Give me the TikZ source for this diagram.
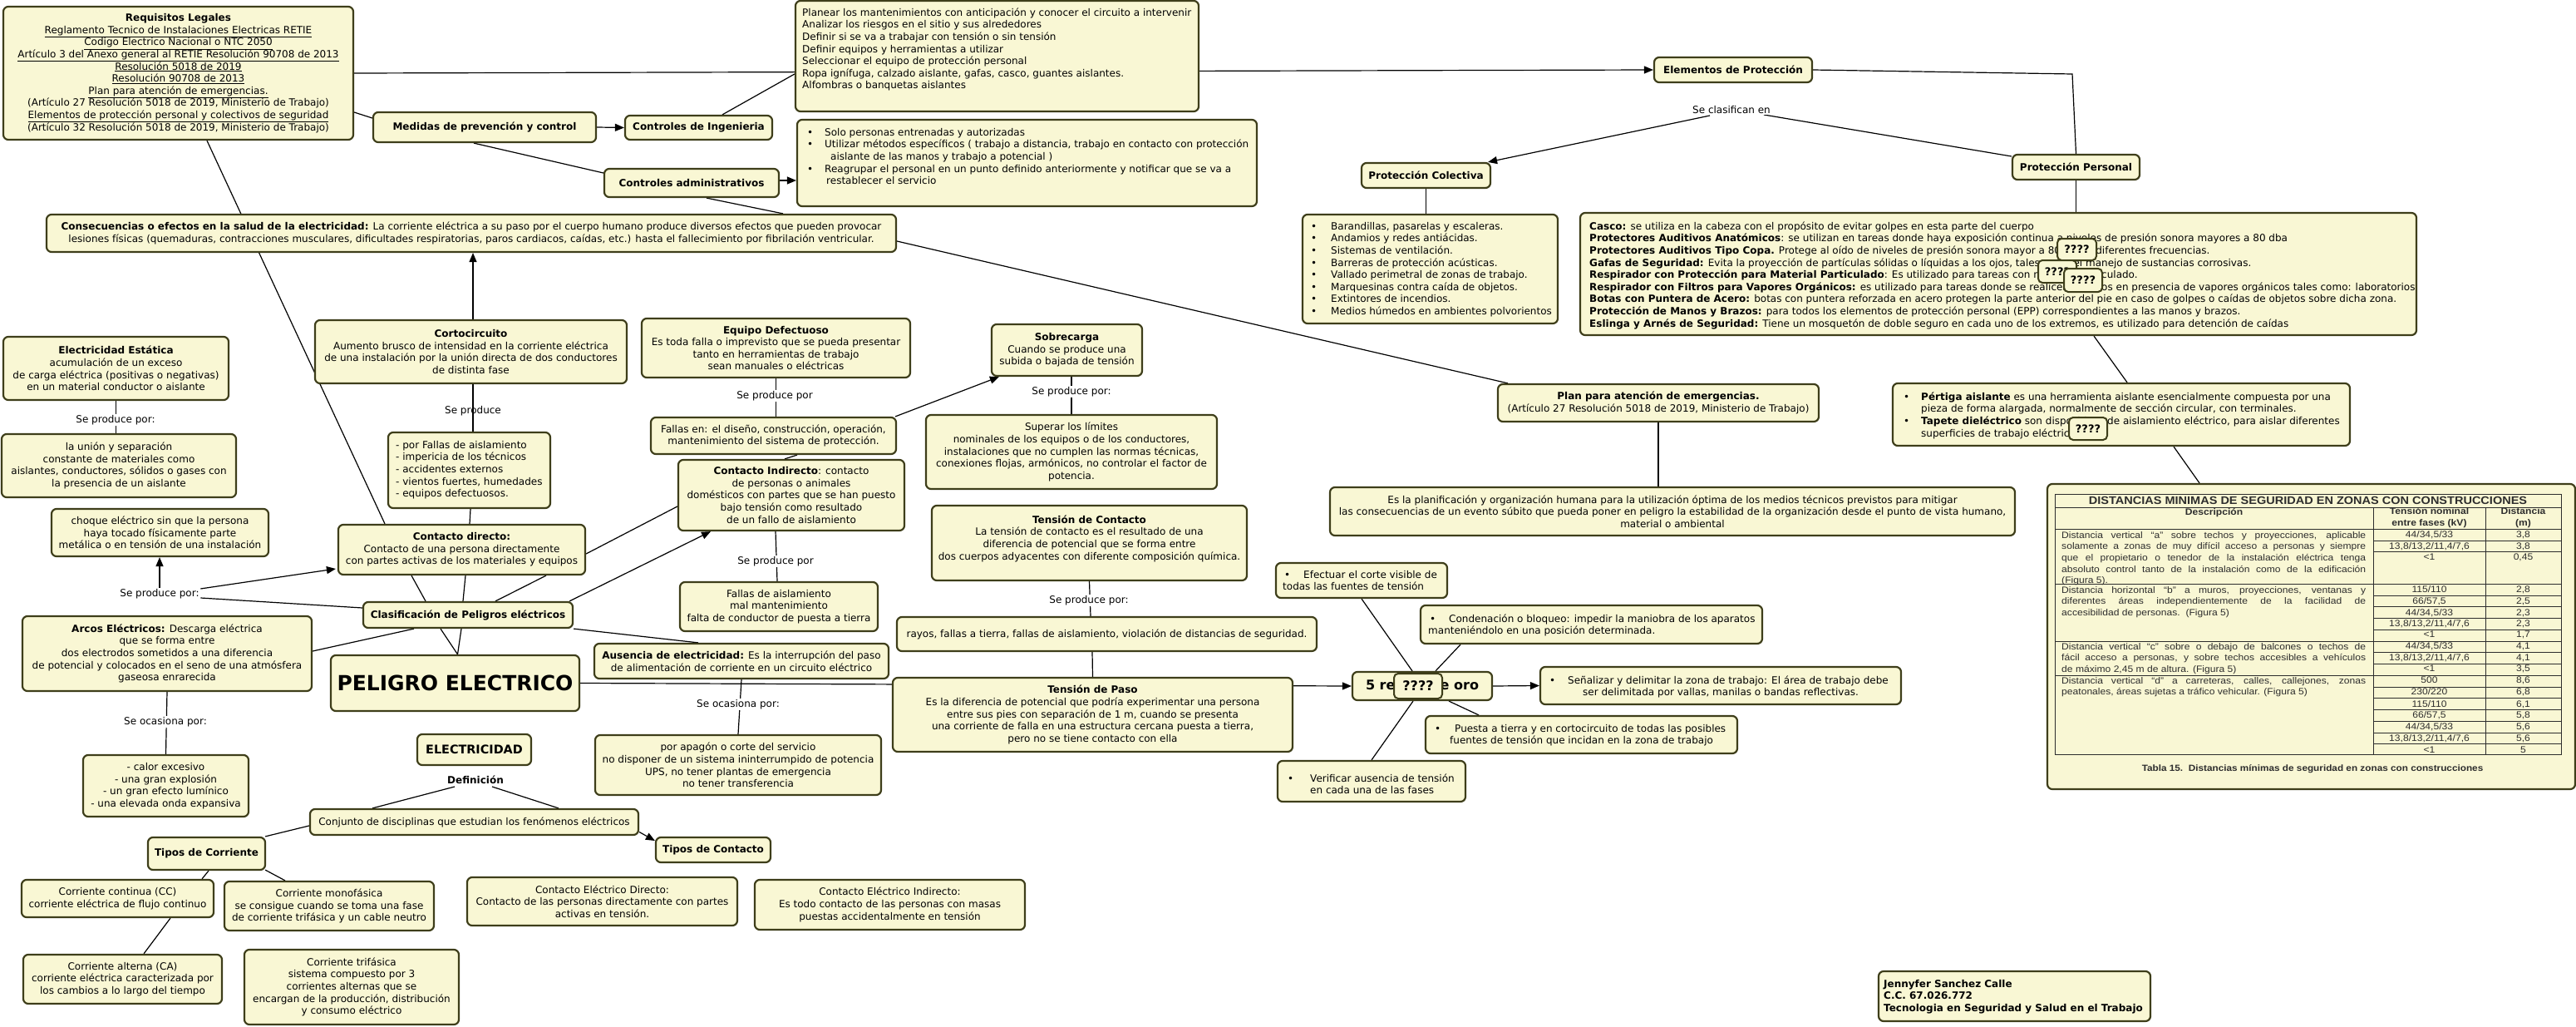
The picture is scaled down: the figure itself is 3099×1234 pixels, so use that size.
\documentclass[tikz,border=0pt]{standalone}
\usepackage{fontspec}
\setmainfont{DejaVu Sans}
\newfontfamily\arialfont{Liberation Sans}[FakeStretch=1.1]
\usetikzlibrary{arrows.meta}
\pgfdeclarelayer{bg}
\pgfdeclarelayer{lines}
\pgfsetlayers{bg,lines,main}
\definecolor{boxfill}{RGB}{249,247,212}
\definecolor{boxline}{RGB}{62,62,26}
\definecolor{tabgray}{RGB}{45,45,45}
\newcommand\fs{\fontsize{12}{14.6}\selectfont}
\newcommand\tabfs{\arialfont\fontsize{11}{13.6}\selectfont}
\newcommand\ts{\rule{0pt}{10pt}}
\newcommand\bul[1]{\makebox[#1][l]{\textbullet}}
\newcommand\jl[1]{\makebox[366pt][s]{#1}}
\newcommand\bx[7][]{\node[box,minimum width={#5-(#3)},minimum height={#6-(#4)},#1] (#2) at ({(#3+#5)/2},{(#4+#6)/2}) {#7};}
\tikzset{
 box/.style={draw=boxline, fill=boxfill, line width=2.2pt, rounded corners=6pt, inner sep=2pt, align=center, font=\fs},
 txt/.style={inner sep=0pt, align=left, font=\fs, anchor=north west},
 lbl/.style={fill=white, inner sep=1.5pt, font=\fs},
 lbln/.style={inner sep=1.5pt, font=\fs},
 con/.style={draw=black, line width=1.2pt},
 arr/.style={con, -{Triangle[length=11pt,width=9pt]}},
 qq/.style={draw=boxline, fill=boxfill, line width=2pt, rounded corners=5pt, inner sep=0pt, font=\fontsize{13}{15}\selectfont\bfseries},
 tabtxt/.style={inner sep=0pt, font=\tabfs, text=tabgray},
}
\begin{document}
\begin{tikzpicture}[x=1pt,y=-1pt]
\useasboundingbox (0,0) rectangle (3099,1234);
\begin{pgfonlayer}{bg}\fill[white] (0,0) rectangle (3099,1234);\end{pgfonlayer}

% ---------- boxes ----------
\bx{req}{4}{8}{425}{168}{\textbf{Requisitos Legales}\\
\underline{Reglamento Tecnico de Instalaciones Electricas RETIE}\\
\underline{Codigo Electrico Nacional o NTC 2050}\\
\underline{Artículo 3 del Anexo general al RETIE Resolución 90708 de 2013}\\
\underline{Resolución 5018 de 2019}\\
\underline{Resolución 90708 de 2013}\\
\underline{Plan para atención de emergencias.}\\
(Artículo 27 Resolución 5018 de 2019, Ministerio de Trabajo)\\
\underline{Elementos de protección personal y colectivos de seguridad}\\
(Artículo 32 Resolución 5018 de 2019, Ministerio de Trabajo)}
\bx{med}{449}{135}{717}{171}{\textbf{Medidas de prevención y control}}
\bx{cing}{752}{139}{929}{168}{\textbf{Controles de Ingenieria}}
\bx{cadm}{727}{203}{937}{237}{\textbf{Controles administrativos}}
\bx{plan}{957}{1}{1442}{134}{}
\node[txt] (plant) at (965,9) {\ts Planear los mantenimientos con anticipación y conocer el circuito a intervenir\\
Analizar los riesgos en el sitio y sus alrededores\\
Definir si se va a trabajar con tensión o sin tensión\\
Definir equipos y herramientas a utilizar\\
Seleccionar el equipo de protección personal\\
Ropa ignífuga, calzado aislante, gafas, casco, guantes aislantes.\\
Alfombras o banquetas aislantes};
\bx{admb}{959}{144}{1512}{248}{}
\node[txt] (admbt) at (971,153) {\ts\bul{21pt}Solo personas entrenadas y autorizadas\\
\bul{21pt}Utilizar métodos específicos ( trabajo a distancia, trabajo en contacto con protección\\
\hspace*{28pt}aislante de las manos y trabajo a potencial )\\
\bul{21pt}Reagrupar el personal en un punto definido anteriormente y notificar que se va a\\
\hspace*{23pt}restablecer el servicio};
\bx{elem}{1990}{69}{2180}{99}{\textbf{Elementos de Protección}}
\node[lbl] (clasif) at (2083,132) {Se clasifican en};
\bx{pcol}{1638}{196}{1793}{226}{\textbf{Protección Colectiva}}
\bx{pper}{2421}{186}{2574}{216}{\textbf{Protección Personal}}
\bx{casco}{1901}{256}{2907}{403}{}
\node[txt] (cascot) at (1912,266) {\ts\textbf{Casco:} se utiliza en la cabeza con el propósito de evitar golpes en esta parte del cuerpo\\
\textbf{Protectores Auditivos Anatómicos}: se utilizan en tareas donde haya exposición continua a niveles de presión sonora mayores a 80 dba\\
\textbf{Protectores Auditivos Tipo Copa.} Protege al oído de niveles de presión sonora mayor a 80 dB en diferentes frecuencias.\\
\textbf{Gafas de Seguridad:} Evita la proyección de partículas sólidas o líquidas a los ojos, tales como el manejo de sustancias corrosivas.\\
\textbf{Respirador con Protección para Material Particulado}: Es utilizado para tareas con material particulado.\\
\textbf{Respirador con Filtros para Vapores Orgánicos:} es utilizado para tareas donde se realicen trabajos en presencia de vapores orgánicos tales como: laboratorios\\
\textbf{Botas con Puntera de Acero:} botas con puntera reforzada en acero protegen la parte anterior del pie en caso de golpes o caídas de objetos sobre dicha zona.\\
\textbf{Protección de Manos y Brazos:} para todos los elementos de protección personal (EPP) correspondientes a las manos y brazos.\\
\textbf{Eslinga y Arnés de Seguridad:} Tiene un mosquetón de doble seguro en cada uno de los extremos, es utilizado para detención de caídas};
\bx{colb}{1567}{258}{1874}{389}{}
\node[txt] (colbt) at (1577,266) {\ts\bul{24pt}Barandillas, pasarelas y escaleras.\\
\bul{24pt}Andamios y redes antiácidas.\\
\bul{24pt}Sistemas de ventilación.\\
\bul{24pt}Barreras de protección acústicas.\\
\bul{24pt}Vallado perimetral de zonas de trabajo.\\
\bul{24pt}Marquesinas contra caída de objetos.\\
\bul{24pt}Extintores de incendios.\\
\bul{24pt}Medios húmedos en ambientes polvorientos};
\bx{cons}{56}{258}{1078}{303}{\textbf{Consecuencias o efectos en la salud de la electricidad:} La corriente eléctrica a su paso por el cuerpo humano produce diversos efectos que pueden provocar\\
lesiones físicas (quemaduras, contracciones musculares, dificultades respiratorias, paros cardiacos, caídas, etc.) hasta el fallecimiento por fibrilación ventricular.}
\bx{corto}{379}{385}{754}{461}{\textbf{Cortocircuito}\\Aumento brusco de intensidad en la corriente eléctrica\\de una instalación por la unión directa de dos conductores\\de distinta fase}
\bx{eqdef}{772}{383}{1095}{454}{\textbf{Equipo Defectuoso}\\Es toda falla o imprevisto que se pueda presentar\\tanto en herramientas de trabajo\\sean manuales o eléctricas}
\bx{sobre}{1193}{390}{1374}{452}{\textbf{Sobrecarga}\\Cuando se produce una\\subida o bajada de tensión}
\bx{estat}{4}{405}{275}{481}{\textbf{Electricidad Estática}\\acumulación de un exceso\\de carga eléctrica (positivas o negativas)\\en un material conductor o aislante}
\bx{union}{2}{522}{284}{598}{la unión y separación\\constante de materiales como\\aislantes, conductores, sólidos o gases con\\la presencia de un aislante}
\node[lbl] (lest) at (139,505) {Se produce por:};
\bx{choque}{62}{612}{323}{669}{choque eléctrico sin que la persona\\haya tocado físicamente parte\\metálica o en tensión de una instalación}
\node[lbl] (lsp) at (192,714) {Se produce por:};
\bx{pfal}{467}{520}{662}{611}{}
\node[txt] (pfalt) at (476,529) {\ts- por Fallas de aislamiento\\- impericia de los técnicos\\- accidentes externos\\- vientos fuertes, humedades\\- equipos defectuosos.};
\node[lbln] (lsprod) at (569,494) {Se produce};
\bx{cdir}{407}{631}{704}{691}{\textbf{Contacto directo:}\\Contacto de una persona directamente\\con partes activas de los materiales y equipos}
\bx{clas}{437}{724}{689}{755}{\textbf{Clasificación de Peligros eléctricos}}
\bx{arcos}{27}{741}{375}{831}{\textbf{Arcos Eléctricos:} Descarga eléctrica\\que se forma entre\\dos electrodos sometidos a una diferencia\\de potencial y colocados en el seno de una atmósfera\\gaseosa enrarecida}
\bx[font=\fontsize{25}{30}\selectfont\bfseries]{pel}{398}{788}{697}{855}{PELIGRO ELECTRICO}
\bx{aus}{715}{774}{1069}{816}{\textbf{Ausencia de electricidad:} Es la interrupción del paso\\de alimentación de corriente en un circuito eléctrico}
\node[lbl] (locas) at (888,847) {Se ocasiona por:};
\bx{apag}{716}{884}{1060}{956}{por apagón o corte del servicio\\no disponer de un sistema ininterrumpido de potencia\\UPS, no tener plantas de emergencia\\no tener transferencia}
\bx{fen}{783}{502}{1078}{546}{Fallas en: el diseño, construcción, operación,\\mantenimiento del sistema de protección.}
\node[lbl] (lfen) at (932,476) {Se produce por};
\bx{cind}{816}{553}{1088}{638}{\textbf{Contacto Indirecto}: contacto\\de personas o animales\\domésticos con partes que se han puesto\\bajo tensión como resultado\\de un fallo de aislamiento}
\node[lbl] (lcind) at (933,675) {Se produce por};
\bx{faisl}{818}{700}{1056}{759}{Fallas de aislamiento\\mal mantenimiento\\falta de conductor de puesta a tierra}
\node[lbl] (lsob) at (1289,471) {Se produce por:};
\bx{super}{1114}{499}{1464}{588}{Superar los límites\\nominales de los equipos o de los conductores,\\instalaciones que no cumplen las normas técnicas,\\conexiones flojas, armónicos, no controlar el factor de\\potencia.}
\bx{tcon}{1121}{608}{1500}{698}{}
\node[txt,anchor=north,align=center] (tcont) at (1310.5,619) {\ts\textbf{Tensión de Contacto}\\La tensión de contacto es el resultado de una\\diferencia de potencial que se forma entre\\dos cuerpos adyacentes con diferente composición química.};
\node[lbl] (ltc) at (1310,722) {Se produce por:};
\bx{rayos}{1079}{742}{1584}{783}{rayos, fallas a tierra, fallas de aislamiento, violación de distancias de seguridad.}
\bx{tpaso}{1074}{815}{1555}{904}{\textbf{Tensión de Paso}\\Es la diferencia de potencial que podría experimentar una persona\\entre sus pies con separación de 1 m, cuando se presenta\\una corriente de falla en una estructura cercana puesta a tierra,\\pero no se tiene contacto con ella}
\bx[font=\fontsize{16}{19}\selectfont\bfseries]{reglas}{1627}{808}{1795}{842}{5 reglas de oro}
\bx{efect}{1535}{677}{1741}{719}{}
\node[txt] (efectt) at (1543,685) {\ts\hspace*{2pt}\bul{23pt}Efectuar el corte visible de\\todas las fuentes de tensión};
\bx{conden}{1709}{728}{2120}{774}{}
\node[txt] (condent) at (1718,738) {\ts\hspace*{2pt}\bul{23pt}Condenación o bloqueo: impedir la maniobra de los aparatos\\manteniéndolo en una posición determinada.};
\bx{senal}{1853}{802}{2287}{847}{}
\node[txt] (senalt) at (1864,812) {\ts\bul{22pt}Señalizar y delimitar la zona de trabajo: El área de trabajo debe\\\hspace*{40pt}ser delimitada por vallas, manilas o bandas reflectivas.};
\bx{puesta}{1715}{861}{2090}{906}{}
\node[txt] (puestat) at (1726,870) {\ts\bul{24pt}Puesta a tierra y en cortocircuito de todas las posibles\\\hspace*{18pt}fuentes de tensión que incidan en la zona de trabajo};
\bx{verif}{1537}{915}{1763}{964}{}
\node[txt] (verift) at (1549,930) {\ts\bul{27pt}Verificar ausencia de tensión\\\hspace*{27pt}en cada una de las fases};
\bx{planat}{1802}{462}{2188}{507}{\textbf{Plan para atención de emergencias.}\\(Artículo 27 Resolución 5018 de 2019, Ministerio de Trabajo)}
\bx{esplan}{1600}{586}{2424}{644}{Es la planificación y organización humana para la utilización óptima de los medios técnicos previstos para mitigar\\las consecuencias de un evento súbito que pueda poner en peligro la estabilidad de la organización desde el punto de vista humano,\\material o ambiental}
\bx{pert}{2277}{461}{2827}{536}{}
\node[txt] (pertt) at (2290,471) {\ts\bul{21pt}\textbf{Pértiga aislante} es una herramienta aislante esencialmente compuesta por una\\
\hspace*{21pt}pieza de forma alargada, normalmente de sección circular, con terminales.\\
\bul{21pt}\textbf{Tapete dieléctrico} son dispositivos de aislamiento eléctrico, para aislar diferentes\\
\hspace*{21pt}superficies de trabajo eléctrico.};
\bx{tab}{2463}{582}{3098}{949}{}
\bx{jen}{2260}{1168}{2587}{1228}{}
\node[txt,font=\fs\bfseries] (jent) at (2266,1177) {\ts Jennyfer Sanchez Calle\\C.C. 67.026.772\\Tecnologia en Seguridad y Salud en el Trabajo};
\bx{calor}{100}{908}{299}{982}{- calor excesivo\\- una gran explosión\\- un gran efecto lumínico\\- una elevada onda expansiva}
\node[lbl] (locar) at (199,868) {Se ocasiona por:};
\bx[font=\fontsize{14.4}{17}\selectfont\bfseries]{elec}{502}{883}{639}{920}{ELECTRICIDAD}
\node[lbl,font=\fs\bfseries] (ldef) at (572,938) {Definición};
\bx{conj}{373}{973}{768}{1004}{Conjunto de disciplinas que estudian los fenómenos eléctricos}
\bx{tcorr}{178}{1007}{319}{1046}{\textbf{Tipos de Corriente}}
\bx{tcto}{789}{1007}{927}{1037}{\textbf{Tipos de Contacto}}
\bx{cc}{26}{1058}{257}{1103}{Corriente continua (CC)\\corriente eléctrica de flujo continuo}
\bx{mono}{270}{1060}{522}{1119}{Corriente monofásica\\se consigue cuando se toma una fase\\de corriente trifásica y un cable neutro}
\bx{ca}{28}{1148}{267}{1207}{Corriente alterna (CA)\\corriente eléctrica caracterizada por\\los cambios a lo largo del tiempo}
\bx{tri}{294}{1142}{552}{1232}{Corriente trifásica\\sistema compuesto por 3\\corrientes alternas que se\\encargan de la producción, distribución\\y consumo eléctrico}
\bx{ced}{562}{1055}{887}{1113}{Contacto Eléctrico Directo:\\Contacto de las personas directamente con partes\\activas en tensión.}
\bx{cei}{908}{1058}{1233}{1118}{Contacto Eléctrico Indirecto:\\Es todo contacto de las personas con masas\\puestas accidentalmente en tensión}

% ---------- table ----------
\draw[tabgray, line width=1pt] (2472,594) rectangle (3081,907);
\foreach \yy in {610,636,702,771,812} {\draw[tabgray, line width=1pt] (2472,\yy) -- (3081,\yy);}
\foreach \yy in {650,663,716,729,743,757,784,798,826,839,853,867,881,894} {\draw[tabgray, line width=0.9pt] (2855,\yy) -- (3081,\yy);}
\draw[tabgray, line width=1pt] (2855,610) -- (2855,907) (2990,610) -- (2990,907);
\node[tabtxt,font=\arialfont\bfseries\fontsize{13.2}{15}\selectfont] (th) at (2776.5,602) {DISTANCIAS MINIMAS DE SEGURIDAD EN ZONAS CON CONSTRUCCIONES};
\node[tabtxt,font=\arialfont\bfseries\fontsize{11}{14}\selectfont] (th1) at (2663.5,617) {Descripción};
\node[tabtxt,font=\arialfont\bfseries\fontsize{11}{14}\selectfont,align=center] (th2) at (2922.5,623) {Tensión nominal\\entre fases (kV)};
\node[tabtxt,font=\arialfont\bfseries\fontsize{11}{14}\selectfont,align=center] (th3) at (3035.5,623) {Distancia\\(m)};
\foreach \yy/\va/\vb [count=\i] in {643/{44/34,5/33}/{3,8}, 657/{13,8/13,2/11,4/7,6}/{3,8}, 670/{\textless 1}/{0,45},
 709/{115/110}/{2,8}, 723/{66/57,5}/{2,5}, 737/{44/34,5/33}/{2,3}, 750/{13,8/13,2/11,4/7,6}/{2,3}, 763/{\textless 1}/{1,7},
 777/{44/34,5/33}/{4,1}, 791/{13,8/13,2/11,4/7,6}/{4,1}, 804/{\textless 1}/{3,5},
 818/{500}/{8,6}, 832/{230/220}/{6,8}, 847/{115/110}/{6,1}, 860/{66/57,5}/{5,8}, 874/{44/34,5/33}/{5,6}, 888/{13,8/13,2/11,4/7,6}/{5,6}, 902/{\textless 1}/{5}}
 {\node[tabtxt] (va\i) at (2922.5,\yy) {\va}; \node[tabtxt] (vb\i) at (3035.5,\yy) {\vb};}
\node[tabtxt,anchor=north west,align=left] (da) at (2480,638) {\rule{0pt}{9pt}\jl{Distancia vertical “a” sobre techos y proyecciones, aplicable}\\\jl{solamente a zonas de muy difícil acceso a personas y siempre}\\\jl{que el propietario o tenedor de la instalación eléctrica tenga}\\\jl{absoluto control tanto de la instalación como de la edificación}\\(Figura 5).};
\node[tabtxt,anchor=north west,align=left] (db) at (2480,704) {\rule{0pt}{9pt}\jl{Distancia horizontal “b” a muros, proyecciones, ventanas y}\\\jl{diferentes áreas independientemente de la facilidad de}\\accesibilidad de personas.\ \ (Figura 5)};
\node[tabtxt,anchor=north west,align=left] (dc) at (2480,772) {\rule{0pt}{9pt}\jl{Distancia vertical “c” sobre o debajo de balcones o techos de}\\\jl{fácil acceso a personas, y sobre techos accesibles a vehículos}\\de máximo 2,45 m de altura. (Figura 5)};
\node[tabtxt,anchor=north west,align=left] (dd) at (2480,813) {\rule{0pt}{9pt}\jl{Distancia vertical “d” a carreteras, calles, callejones, zonas}\\peatonales, áreas sujetas a tráfico vehicular. (Figura 5)};
\node[tabtxt,font=\arialfont\bfseries\fontsize{10.7}{13}\selectfont] (tcap) at (2782,925) {Tabla 15.\ \ Distancias mínimas de seguridad en zonas con construcciones};

% ---------- overlays ----------
\bx[qq]{q1}{2475}{287}{2522}{313}{????}
\bx[qq]{q2}{2452}{313}{2498}{340}{????}
\bx[qq]{q3}{2483}{323}{2529}{351}{????}
\bx[qq]{q4}{2489}{502}{2535}{529}{????}
\bx[qq,font=\fontsize{16}{19}\selectfont\bfseries]{q5}{1677}{810}{1735}{840}{????}

% ---------- connectors ----------
\begin{pgfonlayer}{lines}
\draw[arr] (req.east) -- (elem.west);
\draw[con] ([shift={(0,47)}]req.east) -- ([shift={(0,-11)}]med.west);
\draw[con] ([shift={(34.5,0)}]req.south) -- ([shift={(-92.5,0)}]cdir.north);
\draw[arr] (med.east) -- (cing.west);
\draw[con] ([shift={(-13,0)}]med.south) -- ([shift={(0,-12)}]cadm.west);
\draw[con] ([shift={(28.5,0)}]cing.north) -- ([shift={(0,21.5)}]plan.west);
\draw[arr] ([shift={(0,-3)}]cadm.east) -- ([shift={(0,21)}]admb.west);
\draw[con] ([shift={(18,0)}]cadm.south) -- ([shift={(375,0)}]cons.north);
\draw[con] ([shift={(0,9.5)}]cons.east) -- ([shift={(-181,0)}]planat.north);
\coordinate (bend) at (2493,89);
\draw[con] (elem.east) -- (bend) -- (pper.north);
\draw[arr] ([shift={(-26,7)}]clasif.center) -- ([shift={(-4,0)}]pcol.north east);
\draw[con] ([shift={(39,6)}]clasif.center) -- ([shift={(0,-13)}]pper.west);
\draw[con] (pcol.south) -- (pcol.south |- colb.north);
\draw[con] (pper.south) -- (pper.south |- casco.north);
\draw[con] ([shift={(115,0)}]casco.south) -- ([shift={(7,0)}]pert.north);
\draw[con] ([shift={(63,0)}]pert.south) -- ([shift={(-134.5,0)}]tab.north);
\draw[arr] ([shift={(2.5,0)}]corto.north) -- ([shift={(2,0)}]cons.south);
\draw[con] ([shift={(2.5,0)}]corto.south) -- ([shift={(4.5,0)}]pfal.north);
\draw[con] ([shift={(1.5,0)}]pfal.south) -- ([shift={(9.5,0)}]cdir.north);
\draw[con] (estat.south) -- (estat.south |- union.north);
\draw[con] ([shift={(0,-8.5)}]clas.west) -- ([shift={(0,5)}]lsp.east);
\draw[arr] (lsp.north) -- (lsp.north |- choque.south);
\draw[arr] ([shift={(0,-6)}]lsp.east) -- ([shift={(-2,23)}]cdir.west);
\draw[con] ([shift={(-65,0)}]clas.south) -- ([shift={(0,-3)}]arcos.east);
\draw[con] ([shift={(-33,0)}]clas.south) -- ([shift={(3,0)}]pel.north);
\draw[con] ([shift={(-8,0)}]clas.south) -- ([shift={(3,0)}]pel.north);
\draw[con] ([shift={(-60.5,0)}]cdir.south) -- ([shift={(-51,0)}]clas.north);
\draw[con] ([shift={(4.5,0)}]cdir.south) -- ([shift={(-6,0)}]clas.north);
\draw[con] ([shift={(101.5,0)}]cdir.south) -- ([shift={(33,0)}]clas.north);
\draw[con] ([shift={(0,5)}]cdir.east) -- ([shift={(0,13.5)}]cind.west);
\draw[arr] ([shift={(-5,0)}]clas.north east) -- ([shift={(-97,0)}]cind.south);
\draw[con] (clas.south east) -- ([shift={(-52,0)}]aus.north);
\draw[con] (eqdef.south) -- (eqdef.south |- fen.north);
\draw[arr] ([shift={(-2,0)}]fen.north east) -- ([shift={(10,0)}]sobre.south west);
\draw[con] ([shift={(28.5,0)}]fen.south) -- ([shift={(-8,0)}]cind.north);
\draw[con] ([shift={(-19,0)}]cind.south) -- ([shift={(-2,0)}]faisl.north);
\draw[con] ([shift={(5.5,0)}]sobre.south) -- (super.north);
\draw[con] (tcon.south) -- ([shift={(-19.5,0)}]rayos.north);
\draw[con] ([shift={(-17.5,0)}]rayos.south) -- (tpaso.north);
\draw[arr] (pel.east) -- (reglas.west);
\draw[arr] (reglas.east) -- (senal.west);
\draw[con] ([shift={(-12,0)}]reglas.north) -- (efect.south);
\draw[con] ([shift={(16,0)}]reglas.north) -- ([shift={(-157.5,0)}]conden.south);
\draw[con] ([shift={(32,0)}]reglas.south) -- ([shift={(-123.5,0)}]puesta.north);
\draw[con] ([shift={(-11,0)}]reglas.south) -- (verif.north);
\draw[con] (planat.south) -- ([shift={(-17,0)}]esplan.north);
\draw[con] (arcos.south) -- (calor.north);
\draw[con] (aus.south) -- (apag.north);
\draw[con] ([shift={(-25,8)}]ldef.center) -- ([shift={(-122.5,0)}]conj.north);
\draw[con] ([shift={(20,8)}]ldef.center) -- ([shift={(101.5,0)}]conj.north);
\draw[con] ([shift={(0,4.5)}]conj.west) -- ([shift={(-1,0)}]tcorr.north east);
\draw[arr] ([shift={(0,12)}]conj.east) -- ([shift={(0,-11)}]tcto.west);
\draw[con] ([shift={(2.5,0)}]tcorr.south) -- ([shift={(101.5,0)}]cc.north);
\draw[con] ([shift={(-1,-1)}]tcorr.south east) -- ([shift={(-53,0)}]mono.north);
\draw[con] ([shift={(63.5,0)}]cc.south) -- ([shift={(25.5,0)}]ca.north);
\end{pgfonlayer}
\end{tikzpicture}
\end{document}
